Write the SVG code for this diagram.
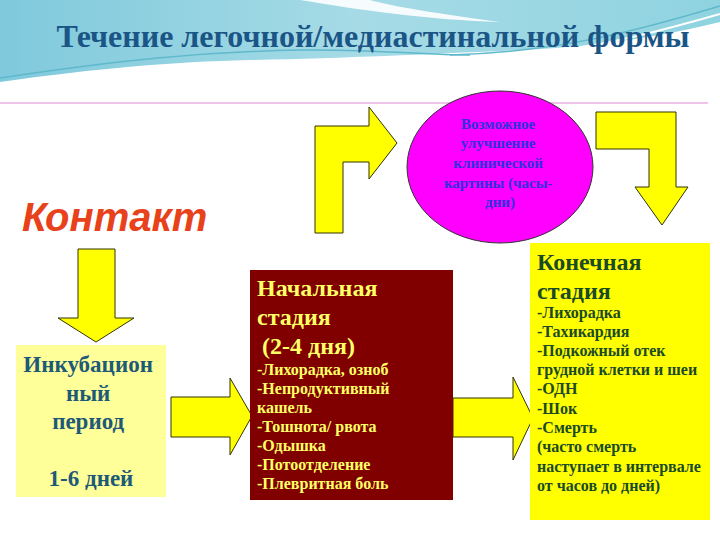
<svg xmlns="http://www.w3.org/2000/svg" width="720" height="540" viewBox="0 0 720 540">
<defs>
<linearGradient id="sky" x1="0" y1="0" x2="1" y2="0">
<stop offset="0" stop-color="#7fc9dc"/>
<stop offset="0.5" stop-color="#a6dbe6"/>
<stop offset="1" stop-color="#8fd3e0"/>
</linearGradient>
<style>
.arrow{fill:#ffff00;stroke:#333300;stroke-width:1}
.ser{font-family:"Liberation Serif","Times New Roman","DejaVu Serif",serif;font-weight:bold}
.big{font-size:24px}
.sm{font-size:16px}
</style>
</defs>
<rect x="0" y="0" width="720" height="540" fill="#ffffff"/>
<g id="header-bg">
<rect x="0" y="0" width="720" height="90" fill="url(#sky)"/>
<path d="M0,82 C100,68 170,62 250,60 C350,58 430,54 520,50 C610,46 670,34 720,22 L720,110 L0,110 Z" fill="#ffffff"/>
<path d="M300,0 C360,10 430,20 500,22 C440,14 390,6 370,0 Z" fill="#ffffff" opacity="0.9"/>
<path d="M0,78 C120,60 200,52 300,50 C380,49 420,55 470,55" fill="none" stroke="#5fb8cc" stroke-width="1.5"/>
<path d="M450,55 C560,52 640,30 720,6" fill="none" stroke="#5fb8cc" stroke-width="1.5"/>
<path d="M470,58 C580,54 650,34 720,14" fill="none" stroke="#ffffff" stroke-width="2"/>
</g>
<text x="373" y="47" class="ser" font-size="32" fill="#1b5586" text-anchor="middle">Течение легочной/медиастинальной формы</text>
<line x1="0" y1="103" x2="708" y2="103" stroke="#eab0e0" stroke-width="1.5"/>
<text x="22" y="231" font-family="'Liberation Sans',Arial,sans-serif" font-weight="bold" font-style="italic" font-size="40" fill="#e8421a">Контакт</text>
<g id="connectors">
<polygon class="arrow" points="78,249 115,249 115,318 134,318 96,342 58,318 78,318"/>
<polygon class="arrow" points="171,397 230,397 230,378 252,416 230,455 230,437 171,437"/>
<polygon class="arrow" points="453,398 513,398 513,377 533,418 513,460 513,437 453,437"/>
<polygon class="arrow" points="315,233 315,126 369,126 369,107 397,143 369,179 369,162 343,162 343,233"/>
<polygon class="arrow" points="596,112 676,112 676,187 688,187 662,225 635,187 649,187 649,149 596,149"/>
</g>
<g id="incubation">
<rect x="16" y="345" width="150" height="152" fill="#ffff99"/>
<text class="ser" font-size="23" fill="#1d5a78" text-anchor="middle">
<tspan x="91" y="372">Инкубацион</tspan>
<tspan x="91" y="401">ный</tspan>
<tspan x="91" y="429">период</tspan>
<tspan x="91" y="486">1-6 дней</tspan>
</text>
</g>
<g id="initial">
<rect x="250" y="270" width="203" height="230" fill="#800000"/>
<text class="ser" fill="#ffff66">
<tspan class="big" x="257" y="296">Начальная</tspan>
<tspan class="big" x="257" y="325">стадия</tspan>
<tspan class="big" x="262" y="354">(2-4 дня)</tspan>
<tspan class="sm" x="257" y="375">-Лихорадка, озноб</tspan>
<tspan class="sm" x="257" y="394">-Непродуктивный</tspan>
<tspan class="sm" x="257" y="413">кашель</tspan>
<tspan class="sm" x="257" y="432">-Тошнота/ рвота</tspan>
<tspan class="sm" x="257" y="451">-Одышка</tspan>
<tspan class="sm" x="257" y="470">-Потоотделение</tspan>
<tspan class="sm" x="257" y="489">-Плевритная боль</tspan>
</text>
</g>
<g id="improvement">
<ellipse cx="500" cy="167" rx="93" ry="76" fill="#ff00ff" stroke="#333333" stroke-width="1"/>
<text class="ser" font-size="15" fill="#3030e0" text-anchor="middle">
<tspan x="500" y="129">Возможное</tspan>
<tspan x="500" y="148">улучшение</tspan>
<tspan x="500" y="168">клинической</tspan>
<tspan x="500" y="188">картины (часы-</tspan>
<tspan x="500" y="207">дни)</tspan>
</text>
</g>
<g id="final">
<rect x="530" y="243" width="180" height="277" fill="#ffff00"/>
<text class="ser" fill="#1a4a26">
<tspan class="big" x="537" y="270">Конечная</tspan>
<tspan class="big" x="537" y="299">стадия</tspan>
<tspan class="sm" x="537" y="318">-Лихорадка</tspan>
<tspan class="sm" x="537" y="337">-Тахикардия</tspan>
<tspan class="sm" x="537" y="356">-Подкожный отек</tspan>
<tspan class="sm" x="537" y="375">грудной клетки и шеи</tspan>
<tspan class="sm" x="537" y="394">-ОДН</tspan>
<tspan class="sm" x="537" y="414">-Шок</tspan>
<tspan class="sm" x="537" y="433">-Смерть</tspan>
<tspan class="sm" x="537" y="452">(часто смерть</tspan>
<tspan class="sm" x="537" y="472">наступает в интервале</tspan>
<tspan class="sm" x="537" y="491">от часов до дней)</tspan>
</text>
</g>
</svg>
